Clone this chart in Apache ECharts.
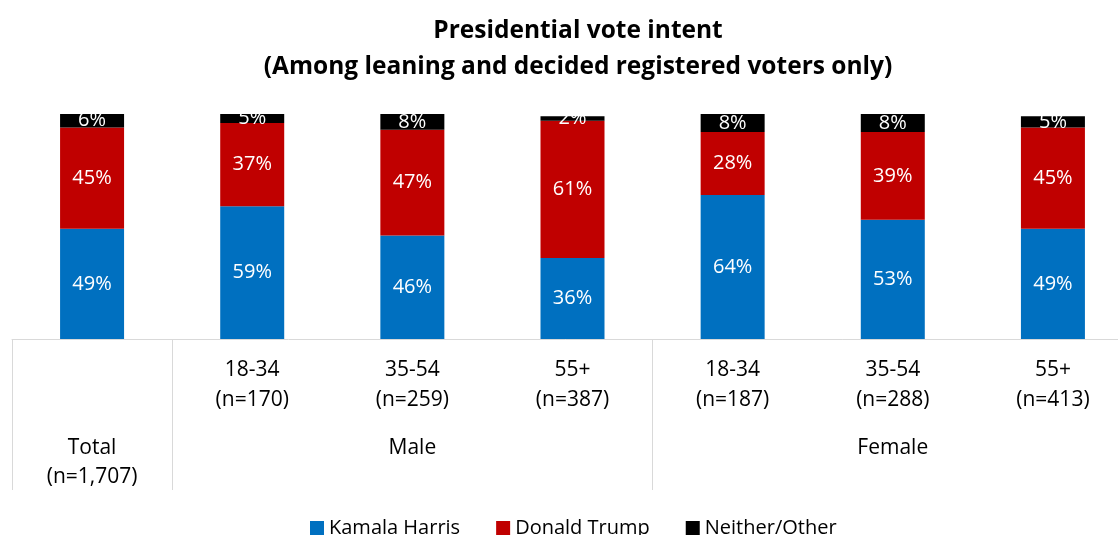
<!DOCTYPE html>
<html>
<head>
<meta charset="utf-8">
<script src="https://cdn.jsdelivr.net/npm/echarts@6/dist/echarts.min.js"></script>
<style>
html,body{margin:0;padding:0;background:#fff;}
#chart{width:1118px;height:535px;}
</style>
</head>
<body>
<div id="chart"></div>
<script>
const categories = ['Total', '18-34', '35-54', '55+', '18-34', '35-54', '55+'];
const sampleSizes = ['n=1,707', 'n=170', 'n=259', 'n=387', 'n=187', 'n=288', 'n=413'];
const groupLabels = ['Total\n(n=1,707)', '', 'Male', '', '', 'Female', ''];
const harris = [49, 59, 46, 36, 64, 53, 49];
const trump = [45, 37, 47, 61, 28, 39, 45];
const other = [6, 5, 8, 2, 8, 8, 5];
const seriesNames = ['Kamala Harris', 'Donald Trump', 'Neither/Other'];
const colors = ['#0070C0', '#C00000', '#000000'];

const FONT = '"Open Sans"';
const chart = echarts.init(document.getElementById('chart'), null, {renderer: 'canvas'});

const levelOneLabels = categories.map((c, i) => i === 0 ? '' : c + '\n(' + sampleSizes[i] + ')');

function barSeries(name, data, color) {
  return {
    name: name,
    type: 'bar',
    stack: 'total',
    xAxisIndex: 0,
    barWidth: 64,
    data: data,
    itemStyle: {color: color},
    label: {
      show: true,
      position: 'inside',
      formatter: p => p.value + '%',
      color: '#fff',
      fontFamily: FONT,
      fontSize: 20
    }
  };
}

chart.setOption({
  animation: false,
  color: colors,
  title: {
    text: 'Presidential vote intent\n(Among leaning and decided registered voters only)',
    left: 573,
    top: 8,
    textAlign: 'center',
    textStyle: {fontFamily: FONT, fontWeight: 'bold', fontSize: 24.5, lineHeight: 36, color: '#000'}
  },
  legend: {
    left: 305,
    top: 513,
    icon: 'rect',
    itemWidth: 14,
    itemHeight: 14,
    itemGap: 36,
    data: seriesNames,
    textStyle: {fontFamily: FONT, fontSize: 20, color: '#000'}
  },
  grid: {left: 12, top: 114, width: 1121, height: 225, containLabel: false, outerBoundsMode: 'none'},
  xAxis: [
    {
      type: 'category',
      position: 'bottom',
      data: levelOneLabels,
      axisLine: {show: true, lineStyle: {color: '#D9D9D9', width: 1}},
      axisTick: {show: false},
      axisLabel: {
        interval: 0, margin: 16,
        fontFamily: FONT, fontSize: 21, lineHeight: 30, color: '#000'
      }
    },
    {
      type: 'category',
      position: 'bottom',
      data: groupLabels,
      axisLine: {show: false},
      axisTick: {
        show: true, inside: false, length: 151,
        interval: (idx) => idx === 0 || idx === 1 || idx === 4,
        lineStyle: {color: '#D9D9D9', width: 1}
      },
      axisLabel: {
        interval: 0, margin: 95,
        fontFamily: FONT, fontSize: 21, lineHeight: 29, color: '#000'
      }
    }
  ],
  yAxis: {type: 'value', min: 0, max: 100, show: false, splitLine: {show: false}},
  series: [
    barSeries(seriesNames[0], harris, colors[0]),
    barSeries(seriesNames[1], trump, colors[1]),
    barSeries(seriesNames[2], other, colors[2])
  ]
});
</script>
</body>
</html>
